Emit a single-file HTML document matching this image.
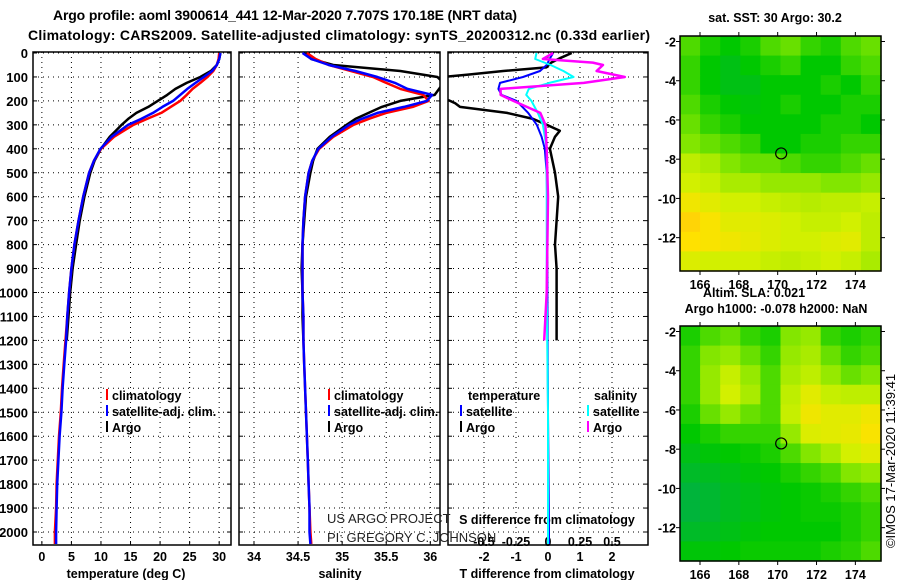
<!DOCTYPE html>
<html><head><meta charset="utf-8"><style>
html,body{margin:0;padding:0;background:#fff;}
svg{display:block;font-family:"Liberation Sans",sans-serif;}
.b{font-weight:bold;font-size:12.5px;fill:#000;}
</style></head><body>
<svg id="c" width="900" height="580" viewBox="0 0 900 580">
<text class="b" x="285" y="20" text-anchor="middle" style="font-size:14px" textLength="464">Argo profile: aoml 3900614_441 12-Mar-2020 7.707S 170.18E (NRT data)</text>
<text class="b" x="339" y="40" text-anchor="middle" style="font-size:14px" textLength="622">Climatology: CARS2009. Satellite-adjusted climatology: synTS_20200312.nc (0.33d earlier)</text>
<g id="g"></g>
</svg>
<script>
// ---- profile data ----
const depthsClim=[0,25,50,75,100,125,150,175,200,225,250,275,300,350,400,450,500,600,700,800,900,1000,1100,1200,1300,1400,1500,1600,1700,1800,1900,2000,2050];
const tempClim=[30.0,29.9,29.6,29.0,28.0,26.8,25.5,24.5,23.4,21.8,20.2,17.8,15.5,12.2,10.0,8.8,8.0,7.0,6.2,5.5,5.0,4.6,4.3,4.0,3.7,3.4,3.2,2.9,2.7,2.5,2.4,2.2,2.2];
const tempSat=[30.2,30.0,29.6,28.8,27.4,26.0,24.6,23.4,22.2,20.4,18.8,16.8,14.6,11.8,9.9,8.8,8.0,7.0,6.2,5.5,5.0,4.6,4.3,4.1,3.8,3.5,3.3,3.0,2.8,2.6,2.5,2.4,2.4];
const depthsArgo=[0,25,50,75,100,125,150,175,200,225,250,275,300,350,400,450,500,600,700,800,900,1000,1100,1200];
const tempArgo=[30.2,30.0,29.6,28.6,26.8,24.5,22.6,21.2,19.6,18.0,16.0,14.6,13.5,11.5,10.0,8.9,8.2,7.2,6.4,5.8,5.2,4.8,4.5,4.2];
const salClim=[34.6,34.7,34.85,35.1,35.35,35.5,35.66,35.92,35.98,35.8,35.5,35.3,35.13,34.9,34.74,34.66,34.62,34.58,34.56,34.55,34.55,34.55,34.56,34.56,34.57,34.58,34.59,34.6,34.61,34.62,34.63,34.64,34.65];
const salSat=[34.55,34.65,34.85,35.15,35.4,35.6,35.74,36.02,35.96,35.7,35.4,35.22,35.08,34.88,34.73,34.66,34.62,34.58,34.56,34.55,34.55,34.55,34.56,34.56,34.57,34.58,34.59,34.6,34.61,34.62,34.63,34.63,34.64];
const salArgo=[34.58,34.65,34.9,35.66,36.08,36.15,36.1,36.05,35.66,35.45,35.3,35.15,35.05,34.86,34.72,34.67,34.64,34.59,34.57,34.55,34.54,34.55,34.55,34.56];
const dArgoT=[0,20,40,60,75,90,100,125,150,175,200,210,225,250,275,300,325,350,400,500,600,700,800,900,1000,1100,1200];
const diffTArgo=[0.74,0.4,0.1,-0.05,-1.4,-2.5,-3.3,-3.5,-3.5,-3.5,-3.06,-2.9,-2.75,-1.28,-0.47,-0.04,0.37,0.22,0.06,0.22,0.32,0.27,0.22,0.27,0.27,0.27,0.27];
const dSatT=[0,25,50,75,100,125,150,175,200,250,300,350,400,500,700,1000,1500,2000,2050];
const diffTSat=[0.16,0.05,-0.04,-0.25,-0.78,-1.5,-1.55,-1.45,-0.98,-0.62,-0.35,-0.2,-0.1,-0.04,-0.02,-0.02,0.0,0.03,0.03];
const dSatS=[0,25,50,75,100,125,150,175,200,250,300,400,600,1000,1500,2000,2050];
const diffSSat=[-0.09,-0.1,0.02,0.12,0.2,0.01,-0.15,-0.17,-0.13,-0.08,-0.04,-0.01,-0.01,-0.01,0.0,0.0,0.0];
const dArgoS=[0,25,40,50,75,100,125,150,175,200,250,300,400,600,1000,1200];
const diffSArgo=[0.04,-0.04,0.35,0.43,0.38,0.6,0.28,-0.37,-0.37,-0.27,-0.06,-0.02,-0.01,0.0,-0.01,-0.03];
const depthTicks=[0,100,200,300,400,500,600,700,800,900,1000,1100,1200,1300,1400,1500,1600,1700,1800,1900,2000];
const tempTicks=[0,5,10,15,20,25,30];
const salTicks=[34,34.5,35,35.5,36];
const tdTicks=[-2,-1,0,1,2];
const sdTicks=[-0.5,-0.25,0,0.25,0.5];
// ---- map data ----
const sstGrid=[
[29.9,29.7,29.6,29.7,29.9,30.0,29.8,29.7,29.9,30.0],
[29.8,29.6,29.5,29.6,29.7,29.8,29.6,29.6,29.8,29.9],
[29.8,29.6,29.5,29.5,29.6,29.6,29.6,29.7,29.6,29.8],
[29.9,29.7,29.6,29.56,29.6,29.7,29.6,29.6,29.7,29.7],
[30.0,29.8,29.7,29.6,29.6,29.6,29.6,29.7,29.7,29.6],
[30.1,30.0,29.9,29.8,29.6,29.6,29.7,29.7,29.8,29.8],
[30.4,30.3,30.1,30.0,30.0,29.9,29.8,29.8,29.9,30.0],
[30.5,30.44,30.3,30.3,30.2,30.2,30.2,30.1,30.1,30.2],
[30.7,30.6,30.5,30.5,30.44,30.4,30.36,30.4,30.4,30.44],
[30.84,30.76,30.6,30.6,30.56,30.5,30.44,30.44,30.5,30.4],
[30.8,30.76,30.7,30.64,30.56,30.5,30.5,30.56,30.6,30.4],
[30.56,30.5,30.5,30.5,30.44,30.4,30.44,30.5,30.44,30.3]];
const slaGrid=[
[-0.012,0.012,0.025,0.0,-0.012,0.038,0.05,0.0,-0.012,0.0],
[0.0,0.038,0.05,0.025,0.0,0.05,0.062,0.025,0.0,0.012],
[0.0,0.05,0.08,0.05,0.012,0.062,0.075,0.05,0.025,0.038],
[0.0,0.05,0.088,0.062,0.012,0.075,0.1,0.08,0.075,0.075],
[-0.012,0.025,0.05,0.025,0.012,0.08,0.112,0.1,0.1,0.112],
[-0.025,-0.012,0.0,0.0,0.0,0.05,0.095,0.1,0.105,0.12],
[-0.038,-0.03,-0.025,-0.02,-0.012,0.012,0.038,0.062,0.088,0.1],
[-0.05,-0.045,-0.038,-0.03,-0.025,-0.012,0.0,0.012,0.038,0.05],
[-0.062,-0.055,-0.045,-0.038,-0.03,-0.025,-0.02,-0.012,0.0,0.012],
[-0.062,-0.055,-0.045,-0.038,-0.03,-0.025,-0.02,-0.02,-0.012,0.0],
[-0.05,-0.045,-0.038,-0.03,-0.025,-0.025,-0.025,-0.025,-0.012,0.0],
[-0.03,-0.03,-0.025,-0.02,-0.02,-0.02,-0.02,-0.012,-0.005,0.012]];
const lonTicks=[166,168,170,172,174];
const latTicks=[-2,-4,-6,-8,-10,-12];
const argoLon=[170.18];
const argoLat=[-7.707];

const NS="http://www.w3.org/2000/svg";
const G=document.getElementById('g');
function el(tag,attrs,parent,txt){const e=document.createElementNS(NS,tag);for(const k in attrs)e.setAttribute(k,attrs[k]);if(txt!==undefined)e.textContent=txt;(parent||G).appendChild(e);return e;}
const TOP=52,BOT=545;
const yD=d=>53+d*0.2395;
const panels=[
 {x0:33,x1:231,v0:-1.5,v1:32.0,name:'temperature'},
 {x0:239,x1:440,v0:33.83,v1:36.11,name:'salinity'},
 {x0:448,x1:648,v0:-3.125,v1:3.125,name:'difference'}];
const xs=panels.map(p=>v=>p.x0+(v-p.v0)/(p.v1-p.v0)*(p.x1-p.x0));
const xSd=v=>548+v*128;
const defs=el('defs',{});
panels.forEach((p,i)=>{const cp=el('clipPath',{id:'cp'+i},defs);el('rect',{x:p.x0,y:TOP,width:p.x1-p.x0,height:BOT-TOP},cp);});
const tickSets=[tempTicks,salTicks,tdTicks];
panels.forEach((p,i)=>{
  const gp=el('g',{});
  
  
  depthTicks.forEach(d=>{el('line',{x1:p.x0,x2:p.x1,y1:yD(d),y2:yD(d),stroke:'#000','stroke-width':1,'stroke-dasharray':'1,4'},gp);
    el('line',{x1:p.x0,x2:p.x0+4,y1:yD(d),y2:yD(d),stroke:'#000'},gp);el('line',{x1:p.x1-4,x2:p.x1,y1:yD(d),y2:yD(d),stroke:'#000'},gp);});
  tickSets[i].forEach(v=>{const x=xs[i](v);el('line',{x1:x,x2:x,y1:TOP,y2:BOT,stroke:'#000','stroke-width':1,'stroke-dasharray':'1,4'},gp);
    el('line',{x1:x,x2:x,y1:BOT-4,y2:BOT,stroke:'#000'},gp);
    const t=el('text',{x:x,y:561,class:'b','text-anchor':'middle'},gp,String(v));
    
    });
  el('rect',{x:p.x0,y:TOP,width:p.x1-p.x0,height:BOT-TOP,fill:'none',stroke:'#000','stroke-width':1.5},gp);
});
depthTicks.forEach(d=>{const t=el('text',{x:28,y:yD(d)+5,class:'b','text-anchor':'end',style:'font-size:13px'},G,String(d));
  
  });
[['temperature (deg C)',126,'x-axis-title-temperature'],['salinity',340,'x-axis-title-salinity'],['T difference from climatology',547,'x-axis-title-t-diff']].forEach(a=>{
  const t=el('text',{x:a[1],y:578,class:'b','text-anchor':'middle'},G,a[0]);
  
  });
sdTicks.forEach(v=>{const t=el('text',{x:xSd(v),y:546,class:'b','text-anchor':'middle'},G,String(v));
  
  });
{const t=el('text',{x:547,y:524,class:'b','text-anchor':'middle'},G,'S difference from climatology');
 
 }
function line(depths,vals,xf,ci,color,w,name){
  const pts=depths.map((d,k)=>xf(vals[k]).toFixed(1)+','+yD(d).toFixed(1)).join(' ');
  const pl=el('polyline',{points:pts,fill:'none',stroke:color,'stroke-width':w,'stroke-linejoin':'round','clip-path':'url(#cp'+ci+')'});
  
  
}
line(depthsArgo,tempArgo,xs[0],0,'#000',2.5,'temp-argo-line');
line(depthsClim,tempClim,xs[0],0,'#f00',2.5,'temp-climatology-line');
line(depthsClim,tempSat,xs[0],0,'#00f',2.5,'temp-satellite-line');
line(depthsArgo,salArgo,xs[1],1,'#000',2.5,'salinity-argo-line');
line(depthsClim,salClim,xs[1],1,'#f00',2.5,'salinity-climatology-line');
line(depthsClim,salSat,xs[1],1,'#00f',2.5,'salinity-satellite-line');
line(dArgoT,diffTArgo,xs[2],2,'#000',2.5,'t-diff-argo-line');
line(dSatT,diffTSat,xs[2],2,'#00f',2,'t-diff-satellite-line');
line(dSatS,diffSSat,xSd,2,'#0ff',2,'s-diff-satellite-line');
line(dArgoS,diffSArgo,xSd,2,'#f0f',2.5,'s-diff-argo-line');
function leg(x,y,color,txt,name){
  const g=el('g',{});
  
  
  if(color)el('line',{x1:x,x2:x,y1:y-11,y2:y,stroke:color,'stroke-width':2},g);
  el('text',{x:x+5,y:y,class:'b'},g,txt);
}
leg(107,400,'#f00','climatology','legend-climatology');
leg(107,416,'#00f','satellite-adj. clim.','legend-satellite-adj');
leg(107,432,'#000','Argo','legend-argo');
leg(329,400,'#f00','climatology','legend-sal-climatology');
leg(329,416,'#00f','satellite-adj. clim.','legend-sal-satellite-adj');
leg(329,432,'#000','Argo','legend-sal-argo');
leg(463,400,null,'temperature','legend-diff-temperature-header');
leg(461,416,'#00f','satellite','legend-diff-t-satellite');
leg(461,432,'#000','Argo','legend-diff-t-argo');
leg(589,400,null,'salinity','legend-diff-salinity-header');
leg(588,416,'#0ff','satellite','legend-diff-s-satellite');
leg(588,432,'#f0f','Argo','legend-diff-s-argo');
{const t=el('text',{x:327,y:523,'font-size':'13','fill':'#222'},G,'US ARGO PROJECT');
 
 
 const t2=el('text',{x:327,y:542,'font-size':'13','fill':'#222'},G,'PI: GREGORY C. JOHNSON');
 
 }
const stops=[[0,[0,160,120]],[0.3,[0,200,0]],[0.55,[130,230,0]],[0.75,[210,240,0]],[0.9,[255,225,0]],[1,[255,160,30]]];
function cmap(t){t=Math.max(0,Math.min(1,t));for(let i=1;i<stops.length;i++){if(t<=stops[i][0]){const a=stops[i-1],b=stops[i];const f=(t-a[0])/(b[0]-a[0]);return 'rgb('+a[1].map((c,k)=>Math.round(c+(b[1][k]-c)*f)).join(',')+')';}}return 'rgb(255,160,30)';}
function drawMap(top,bot,grid,vmin,vmax,name){
  const L=680,R=881,lon0=164.97,lon1=175.32,lat0=-1.72,lat1=-13.7;
  const xm=lon=>L+(lon-lon0)/(lon1-lon0)*(R-L);
  const ym=lat=>top+(lat-lat0)/(lat1-lat0)*(bot-top);
  const g=el('g',{});
  
  
  const nr=grid.length,nc=grid[0].length,cw=(R-L)/nc,ch=(bot-top)/nr;
  grid.forEach((row,r)=>row.forEach((v,c)=>{
    const rc=el('rect',{x:L+c*cw,y:top+r*ch,width:cw+0.6,height:ch+0.6,fill:cmap((v-vmin)/(vmax-vmin))},g);
    
    
  }));
  el('rect',{x:L,y:top,width:R-L,height:bot-top,fill:'none',stroke:'#000','stroke-width':1.5},g);
  lonTicks.forEach(v=>{const x=xm(v);el('line',{x1:x,x2:x,y1:top-4,y2:top,stroke:'#000'},g);el('line',{x1:x,x2:x,y1:bot,y2:bot+4,stroke:'#000'},g);
    el('text',{x:x,y:bot+18,class:'b','text-anchor':'middle'},g,String(v));});
  latTicks.forEach(v=>{const y=ym(v);el('line',{x1:L-4,x2:L,y1:y,y2:y,stroke:'#000'},g);el('line',{x1:R,x2:R+4,y1:y,y2:y,stroke:'#000'},g);
    el('text',{x:L-4,y:y+5,class:'b','text-anchor':'end'},g,String(v));});
  const c=el('circle',{cx:xm(argoLon[0]),cy:ym(argoLat[0]),r:5.5,fill:'none',stroke:'#000','stroke-width':1.2},g);
  
  
}
drawMap(36,271,sstGrid,29.0,31.0,'sst-map');
drawMap(326,561,slaGrid,-0.1,0.15,'sla-map');
{const t=el('text',{x:775,y:22,class:'b','text-anchor':'middle'},G,'sat. SST: 30 Argo: 30.2');
 
 
 const t2=el('text',{x:754,y:297,class:'b','text-anchor':'middle'},G,'Altim. SLA: 0.021');
 
 
 const t3=el('text',{x:776,y:313,class:'b','text-anchor':'middle'},G,'Argo h1000: -0.078 h2000: NaN');
 
 
 const t4=el('text',{x:0,y:0,'font-size':'13','text-anchor':'middle',transform:'translate(895,461) rotate(-90)'},G,'©IMOS 17-Mar-2020 11:39:41');
 
 }
</script>
</body></html>
